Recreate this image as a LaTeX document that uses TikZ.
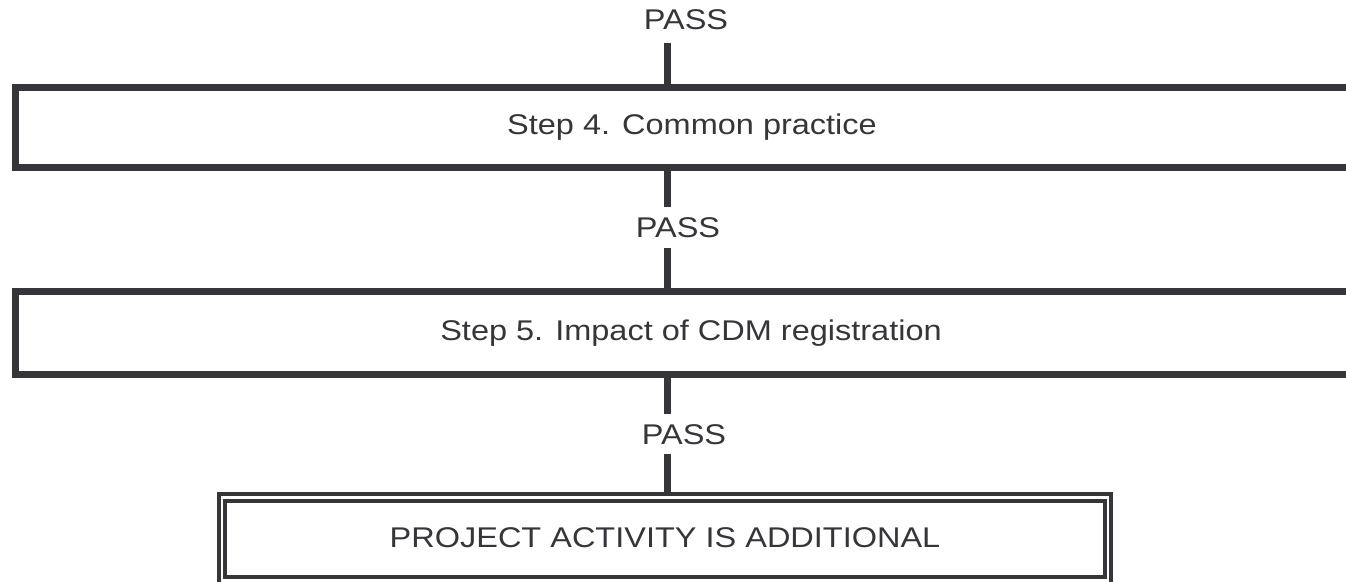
\documentclass[tikz,border=0pt]{standalone}
\usepackage{fontspec}
\setmainfont{Liberation Sans}[FakeStretch=1.14]
\definecolor{ink}{RGB}{53,53,58}
\tikzset{
  stepbox/.style={draw=ink, line width=7pt, rectangle, inner sep=0pt, minimum width=1351pt},
  finalbox/.style={draw=ink, line width=4pt, rectangle, inner sep=0pt},
  label/.style={text=ink, inner sep=0pt, anchor=base, font=\fontsize{28.5}{33}\selectfont},
  conn/.style={draw=ink, line width=6.7pt},
}
\begin{document}
\begin{tikzpicture}[x=1pt,y=1pt]
\useasboundingbox (0,0) rectangle (1346,581);
\clip (0,0) rectangle (1346,581);
\coordinate (cx) at (667.7,0);
% boxes
\node[stepbox, minimum height=80pt] (box4) at (691,453.5) {};
\node[stepbox, minimum height=82.5pt] (box5) at (691,248) {};
\node[finalbox, minimum width=892pt, minimum height=89.7pt] (outer) at (664.7,42.15) {};
\node[finalbox, minimum width=880pt, minimum height=75.7pt] (inner) at (664.7,42.15) {};
% texts
\node[label] (t4) at (692,446) {Step 4. Common practice};
\node[label] (t5) at (691,240.5) {Step 5. Impact of CDM registration};
\node[label] (tf) at (665,33.5) {PROJECT ACTIVITY IS ADDITIONAL};
\node[label] (pass1) at (686,551) {PASS};
\node[label] (pass2) at (678,343) {PASS};
\node[label] (pass3) at (684,136) {PASS};
% connectors
\draw[conn] ([yshift=-13pt]pass1.base -| cx) -- (box4.north -| cx);
\draw[conn] (box4.south -| cx) -- ([yshift=30.5pt]pass2.base -| cx);
\draw[conn] ([yshift=-10pt]pass2.base -| cx) -- (box5.north -| cx);
\draw[conn] (box5.south -| cx) -- ([yshift=31pt]pass3.base -| cx);
\draw[conn] ([yshift=-9pt]pass3.base -| cx) -- (outer.north -| cx);
\end{tikzpicture}
\end{document}
